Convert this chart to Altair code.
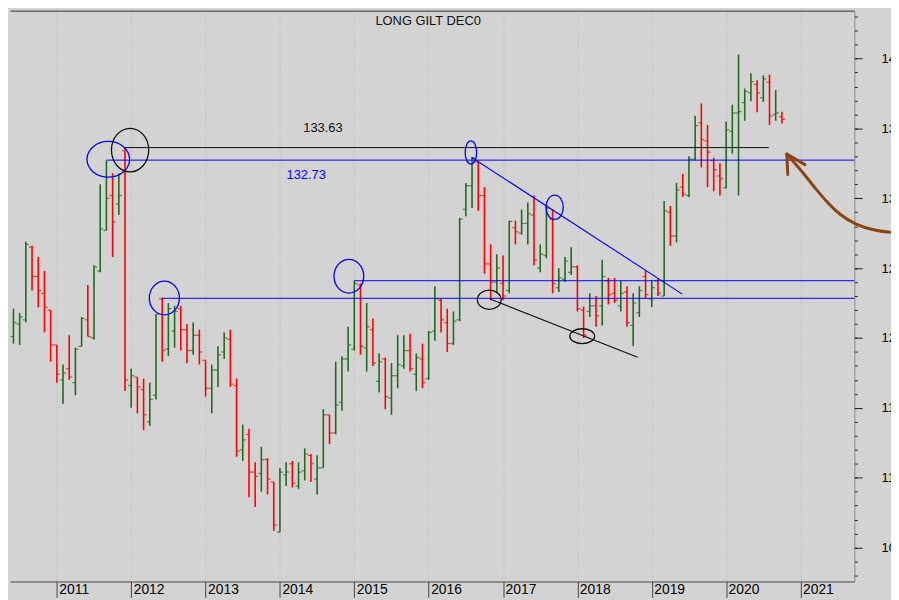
import altair as alt
import pandas as pd
import numpy as np

# ---------------- data (monthly OHLC, Long Gilt continuation) ----------------
START = "2010-06"
OPEN = [120.1, 121.0, 121.3, 126.5, 124.4, 123.2, 122.0,
        119.5, 117.0, 117.8, 116.8, 119.4, 121.3, 120.0, 124.8, 127.7, 130.2, 129.6, 133.4,
        116.6, 117.2, 116.3, 114.0, 115.9, 122.8, 119.2, 120.5, 122.1, 120.6, 119.1, 120.2,
        118.4, 116.4, 117.7, 119.0, 119.9, 116.6, 112.0, 113.1, 110.4, 110.3, 111.3, 109.7,
        106.1, 110.2, 111.0, 109.4, 110.5, 111.6, 109.9, 110.7, 114.5, 113.2, 115.4, 118.5,
        119.2, 123.8, 119.3, 120.6, 116.9, 118.5, 115.7, 117.3, 118.0, 119.1, 117.4, 118.5,
        117.1, 120.5, 122.7, 121.1, 119.6, 121.3, 129.2, 130.9, 132.6, 130.2, 125.3, 124.0,
        123.9, 123.4, 127.9, 127.5, 128.2, 128.8, 125.0, 125.9, 128.5, 123.6, 124.2, 124.7,
        125.1, 122.0, 121.9, 122.3, 122.3, 124.1, 123.2, 122.3, 123.3, 120.9, 121.8, 124.4,
        122.8, 124.1, 123.0, 129.0, 127.3, 130.8, 130.2, 132.8, 135.4, 134.1, 132.7, 131.6,
        130.75, 134.8, 136.1, 136.85, 137.55, 138.15, 137.2, 138.3, 136.0, 135.85]
HIGH = [122.1, 121.8, 126.9, 126.6, 125.8, 124.8, 122.0,
        119.5, 118.1, 120.2, 119.3, 121.5, 123.8, 125.2, 131.0, 132.7, 131.8, 131.8, 133.63,
        117.8, 117.2, 117.1, 116.8, 121.7, 122.9, 122.5, 122.3, 122.3, 121.0, 121.1, 120.6,
        118.4, 118.1, 119.4, 120.4, 120.6, 117.1, 113.8, 113.5, 111.1, 112.2, 111.4, 109.7,
        110.7, 111.1, 111.2, 111.1, 112.1, 111.7, 111.6, 114.9, 114.5, 118.3, 118.7, 120.8,
        124.1, 123.9, 122.5, 121.4, 118.9, 118.6, 118.2, 120.2, 120.2, 120.3, 118.9, 119.6,
        120.5, 123.7, 122.8, 122.1, 121.9, 128.6, 131.1, 132.95, 132.6, 130.8, 126.7, 126.0,
        125.9, 128.4, 128.4, 129.2, 129.7, 130.2, 126.7, 129.5, 129.2, 125.0, 125.8, 126.5,
        125.2, 122.25, 123.2, 123.0, 125.6, 124.3, 124.3, 124.1, 123.7, 123.2, 123.7, 124.85,
        124.1, 124.3, 129.8, 129.45, 131.1, 131.75, 133.0, 135.9, 136.8, 135.25, 132.9, 132.5,
        135.5, 136.7, 140.3, 137.85, 138.95, 138.45, 138.8, 138.85, 137.75, 136.2]
LOW = [119.6, 119.5, 121.1, 123.4, 122.2, 120.4, 118.3,
       116.8, 115.3, 117.0, 115.9, 119.4, 120.1, 119.9, 124.7, 127.7, 125.8, 128.8, 116.2,
       115.0, 114.6, 113.4, 113.7, 115.6, 118.3, 118.7, 119.3, 119.1, 118.2, 118.8, 118.1,
       115.8, 114.6, 116.5, 118.5, 116.5, 111.5, 111.2, 108.6, 107.9, 109.0, 108.8, 106.2,
       106.1, 109.4, 109.3, 109.2, 109.8, 109.7, 108.8, 110.7, 112.4, 113.1, 114.8, 117.6,
       119.1, 118.8, 117.6, 118.0, 116.1, 114.9, 114.5, 116.4, 117.8, 117.6, 116.2, 116.4,
       117.0, 119.8, 120.4, 119.0, 119.5, 121.2, 128.7, 129.3, 129.1, 124.6, 122.7, 123.2,
       122.7, 123.2, 126.7, 127.4, 126.7, 125.2, 124.7, 125.7, 123.2, 123.3, 124.0, 124.5,
       121.9, 120.0, 121.5, 120.8, 120.9, 122.4, 122.5, 121.9, 120.8, 119.4, 121.5, 122.8,
       122.2, 123.0, 123.0, 126.6, 126.85, 130.1, 130.1, 132.7, 132.2, 130.8, 130.5, 130.2,
       130.7, 133.2, 130.2, 135.55, 136.95, 136.15, 136.9, 135.25, 135.55, 135.35]
CLOSE = [121.1, 121.5, 126.7, 124.4, 123.4, 122.2, 119.5,
         117.4, 117.5, 117.2, 119.2, 121.4, 120.1, 125.1, 127.8, 130.0, 128.3, 130.2, 117.0,
         117.3, 116.5, 114.5, 115.6, 121.7, 119.1, 122.1, 121.9, 120.6, 119.1, 120.2, 119.0,
         116.4, 117.7, 118.8, 120.0, 116.7, 111.9, 112.7, 110.4, 110.1, 111.3, 109.9, 106.6,
         110.4, 110.4, 109.6, 110.4, 111.7, 111.0, 110.7, 114.5, 113.2, 115.2, 118.5, 119.5,
         123.9, 119.4, 120.8, 118.2, 118.3, 115.8, 117.3, 118.1, 119.1, 117.8, 118.6, 116.8,
         120.4, 122.8, 121.3, 119.6, 121.2, 128.5, 130.9, 132.9, 130.2, 125.3, 124.0, 125.0,
         123.0, 128.35, 127.6, 128.2, 128.9, 125.6, 126.0, 129.3, 123.9, 124.3, 125.5, 125.1,
         122.1, 120.2, 122.3, 121.6, 124.4, 123.1, 122.7, 123.2, 121.1, 122.5, 123.4, 123.1,
         123.6, 123.2, 129.1, 127.3, 130.6, 130.3, 132.8, 135.2, 134.2, 133.3, 132.05, 131.4,
         134.9, 136.1, 136.2, 137.65, 138.35, 137.55, 138.55, 135.9, 136.1, 135.65]

# annotation levels (decimal year, price)
HLINE_Y = [133.63, 132.73, 122.84, 124.10]
HLINE_X1 = [2011.915, 2011.667, 2012.417, 2015.0]
HLINE_X2 = [2020.574, 2021.724, 2021.724, 2021.724]
HLINE_COLOR = ["black", "blue", "blue", "blue"]

TREND_X1 = [2016.58, 2016.826]
TREND_Y1 = [132.92, 122.79]
TREND_X2 = [2019.41, 2018.81]
TREND_Y2 = [123.14, 118.62]
TREND_COLOR = ["blue", "black"]

ELL_T = [2011.692, 2011.985, 2012.446, 2014.927, 2016.568, 2017.694, 2016.815, 2018.065]
ELL_P = [132.79, 133.45, 122.86, 124.42, 133.28, 129.36, 122.74, 120.13]
ELL_COLOR = ["blue", "black", "blue", "blue", "blue", "blue", "black", "black"]

ARROW_T = [2022.215, 2022.006, 2021.740, 2021.518, 2021.385, 2021.207, 2021.073, 2020.940, 2020.816]
ARROW_P = [127.56, 127.68, 128.09, 128.87, 129.57, 130.64, 131.58, 132.41, 133.16]
HEAD_T2 = [2020.829, 2021.060]
HEAD_P2 = [131.70, 132.41]

TITLE = "LONG GILT DEC0"
TITLE_T, TITLE_P = 2015.993, 142.72
LEVEL_LABELS = ["133.63", "132.73"]
LEVEL_T = [2014.314, 2014.088]
LEVEL_P = [135.06, 131.65]
LEVEL_COLOR = ["black", "blue"]

X_DOMAIN = [2010.370, 2021.724]
Y_DOMAIN = [102.57, 143.43]

# ---------------- styles ----------------
BG = "#d3d3d3"
GREEN = "#1f6b1f"
RED = "#ff0000"
BLUE = "#0000ff"
BROWN = "#8b4513"
FONT = "Liberation Sans"
# ellipse radii in px (rx, ry)
ELL_RADII = [(21.5, 18), (18.8, 22), (15.2, 17), (15, 17), (5.8, 11.7), (8.7, 12.3), (12, 9.7), (12.5, 7.5)]


def colr(c):
    return BLUE if c == "blue" else "#111111"


months = pd.period_range(START, periods=len(OPEN), freq="M")
bars = pd.DataFrame({
    "month": months.strftime("%Y-%m"),
    "t": months.year + (months.month - 1) / 12.0,
    "open": OPEN, "high": HIGH, "low": LOW, "close": CLOSE,
})
bars["dir"] = np.where(bars["close"] >= bars["open"], "up", "down")

XS = alt.Scale(domain=X_DOMAIN, nice=False, zero=False)
YS = alt.Scale(domain=Y_DOMAIN, nice=False, zero=False)
col = alt.Color("dir:N", scale=alt.Scale(domain=["up", "down"], range=[GREEN, RED]), legend=None)

x_axis = alt.Axis(orient="bottom", values=list(range(2011, 2022)), format="d", title=None,
                  grid=True, gridColor="#b4b4b4", gridDash=[1, 2], gridWidth=1,
                  tickSize=16, tickColor="#444", domainColor="#444",
                  labelAlign="left", labelBaseline="middle", labelPadding=-8, labelOffset=2,
                  labelFont=FONT, labelFontSize=14, labelColor="black",
                  labelFlush=False, labelOverlap=False)
x_top = alt.Axis(orient="top", title=None, labels=False, ticks=False, grid=False,
                 domainColor="#333", domainWidth=1)
y_major = alt.Axis(orient="right", values=list(range(105, 145, 5)), title=None, grid=False,
                   tickSize=8, tickColor="#222", domainColor="#888",
                   labelPadding=19, labelAlign="left", labelBaseline="middle",
                   labelFont=FONT, labelFontSize=13, labelColor="black", labelFlush=False)
y_minor = alt.Axis(orient="right", values=list(range(103, 144)), title=None, grid=False,
                   labels=False, domain=False, tickSize=3, tickColor="#222")

base = alt.Chart(bars)
hl = base.mark_rule(strokeWidth=1.6).encode(
    x=alt.X("t:Q", scale=XS, axis=x_axis),
    y=alt.Y("low:Q", scale=YS, axis=y_major),
    y2="high:Q", color=col,
    tooltip=["month", "open", "high", "low", "close"])
op = base.mark_tick(orient="horizontal", size=3, thickness=1.3, xOffset=-1.6).encode(
    x=alt.X("t:Q", scale=XS, axis=None),
    y=alt.Y("open:Q", scale=YS, axis=y_minor), color=col)
cl = base.mark_tick(orient="horizontal", size=3, thickness=1.3, xOffset=1.6).encode(
    x=alt.X("t:Q", scale=XS, axis=None),
    y=alt.Y("close:Q", scale=YS, axis=None), color=col)

hdf = pd.DataFrame({"y": HLINE_Y, "x1": HLINE_X1, "x2": HLINE_X2,
                    "c": [colr(c) for c in HLINE_COLOR]})
hlines = alt.Chart(hdf).mark_rule(strokeWidth=1).encode(
    x=alt.X("x1:Q", scale=XS, axis=x_top), x2="x2:Q",
    y=alt.Y("y:Q", scale=YS, axis=None),
    color=alt.Color("c:N", scale=None))

tdf = pd.DataFrame({"x1": TREND_X1, "y1": TREND_Y1, "x2": TREND_X2, "y2": TREND_Y2,
                    "c": [colr(c) for c in TREND_COLOR]})
trends = alt.Chart(tdf).mark_rule(strokeWidth=1.1).encode(
    x=alt.X("x1:Q", scale=XS, axis=None), x2="x2:Q",
    y=alt.Y("y1:Q", scale=YS, axis=None), y2="y2:Q",
    color=alt.Color("c:N", scale=None))

shapes, sizes = [], []
for rx, ry in ELL_RADII:
    k = ry / rx
    shapes.append(f"M-1,0A1,{k:.4f} 0 1,0 1,0A1,{k:.4f} 0 1,0 -1,0Z")
    sizes.append(4 * rx * rx)
edf = pd.DataFrame({"t": ELL_T, "p": ELL_P, "shape": shapes, "size": sizes,
                    "c": [colr(c) for c in ELL_COLOR]})
ellipses = alt.Chart(edf).mark_point(filled=False, strokeWidth=1.3, opacity=1).encode(
    x=alt.X("t:Q", scale=XS, axis=None),
    y=alt.Y("p:Q", scale=YS, axis=None),
    shape=alt.Shape("shape:N", scale=None),
    size=alt.Size("size:Q", scale=None),
    color=alt.Color("c:N", scale=None))

title_df = pd.DataFrame({"label": [TITLE], "t": [TITLE_T], "p": [TITLE_P]})
title = alt.Chart(title_df).mark_text(font=FONT, fontSize=13, baseline="middle", align="center",
                                      color="#111111").encode(
    x=alt.X("t:Q", scale=XS, axis=None),
    y=alt.Y("p:Q", scale=YS, axis=None),
    text="label:N")

lvl_df = pd.DataFrame({"label": LEVEL_LABELS, "t": LEVEL_T, "p": LEVEL_P,
                       "c": [colr(c) for c in LEVEL_COLOR]})
levels = alt.Chart(lvl_df).mark_text(font=FONT, fontSize=13, baseline="middle", align="left").encode(
    x=alt.X("t:Q", scale=XS, axis=None),
    y=alt.Y("p:Q", scale=YS, axis=None),
    text="label:N",
    color=alt.Color("c:N", scale=None))

adf = pd.DataFrame({"t": ARROW_T, "p": ARROW_P, "o": list(range(len(ARROW_T)))})
arrow = alt.Chart(adf).mark_line(color=BROWN, strokeWidth=3, interpolate="basis",
                                 strokeCap="round").encode(
    x=alt.X("t:Q", scale=XS, axis=None),
    y=alt.Y("p:Q", scale=YS, axis=None),
    order="o:Q")
hd = pd.DataFrame({"t": [ARROW_T[-1]] * 2, "p": [ARROW_P[-1]] * 2, "t2": HEAD_T2, "p2": HEAD_P2})
head = alt.Chart(hd).mark_rule(color=BROWN, strokeWidth=3, strokeCap="round").encode(
    x=alt.X("t:Q", scale=XS, axis=None), x2="t2:Q",
    y=alt.Y("p:Q", scale=YS, axis=None), y2="p2:Q")

chart = alt.layer(hl, op, cl, hlines, trends, ellipses, title, levels, arrow, head).resolve_axis(
    x="independent", y="independent"
).properties(
    width=852, height=576,
    autosize=alt.AutoSizeParams(type="none"),
    padding={"left": 2, "top": 0, "right": 37, "bottom": 16},
    background=BG,
).configure_view(stroke=None, fill=BG)

chart.save("out.html", embed_options={"renderer": "svg", "actions": False})
